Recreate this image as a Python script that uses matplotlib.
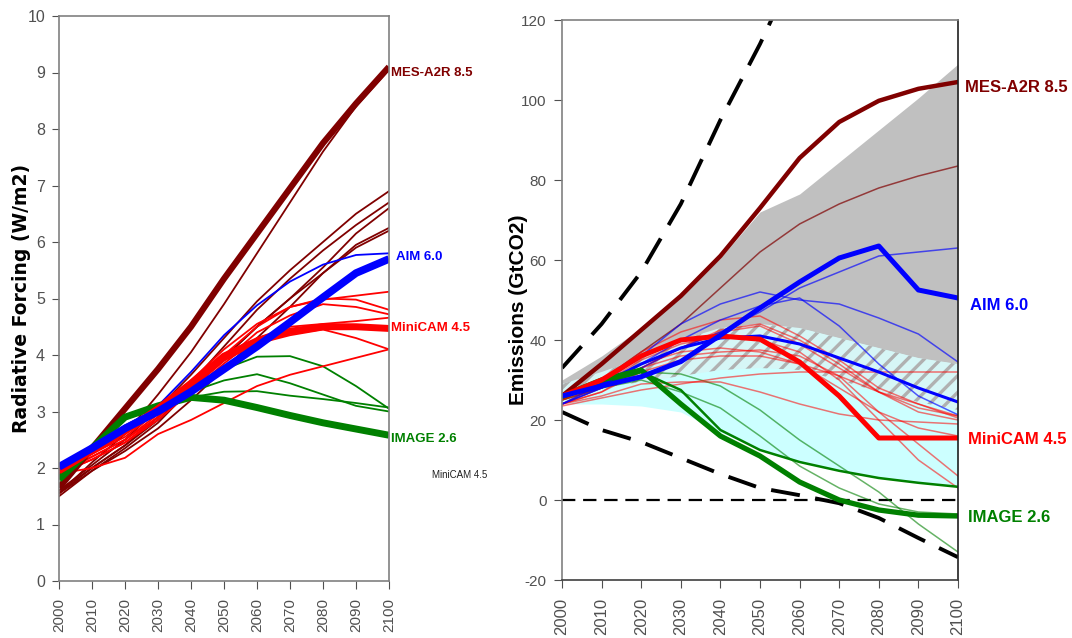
import numpy as np
import matplotlib
matplotlib.use("Agg")
import matplotlib.pyplot as plt

plt.rcParams['hatch.linewidth'] = 2.4
plt.rcParams['axes.unicode_minus'] = False

years = np.arange(2000, 2101, 10)

# ---- radiative forcing (W/m2) ----
rf_mes = [1.65, 2.35, 3.05, 3.75, 4.5, 5.35, 6.15, 6.95, 7.75, 8.45, 9.1]
rf_aim = [2.02, 2.35, 2.7, 3.0, 3.35, 3.75, 4.15, 4.58, 5.02, 5.45, 5.7]
rf_minicam = [1.95, 2.3, 2.65, 3.05, 3.5, 3.98, 4.25, 4.42, 4.5, 4.5, 4.47]
rf_image = [1.8, 2.35, 2.9, 3.1, 3.25, 3.2, 3.07, 2.93, 2.8, 2.69, 2.58]

rf_thin_darkred = [
    [1.55, 2.1, 2.6, 3.3, 4.05, 4.9, 5.8, 6.7, 7.6, 8.4, 9.05],
    [1.6, 2.05, 2.5, 3.05, 3.65, 4.3, 4.95, 5.5, 6.0, 6.5, 6.9],
    [1.55, 2.0, 2.4, 2.9, 3.5, 4.15, 4.8, 5.35, 5.85, 6.3, 6.7],
    [1.5, 1.95, 2.35, 2.8, 3.4, 3.95, 4.5, 5.0, 5.55, 6.15, 6.6],
    [1.6, 2.0, 2.4, 2.85, 3.4, 3.95, 4.5, 5.0, 5.45, 5.9, 6.2],
    [1.55, 1.95, 2.3, 2.7, 3.2, 3.75, 4.3, 4.85, 5.45, 5.95, 6.25],
]
rf_thin_blue = [
    [2.0, 2.3, 2.65, 3.1, 3.7, 4.35, 4.88, 5.3, 5.6, 5.77, 5.8],
]
rf_thin_red = [
    [1.9, 2.2, 2.5, 2.95, 3.5, 4.0, 4.5, 4.85, 4.98, 5.05, 5.12],
    [1.95, 2.25, 2.55, 3.0, 3.55, 4.1, 4.55, 4.85, 5.0, 4.98, 4.8],
    [1.9, 2.2, 2.5, 2.9, 3.4, 3.9, 4.4, 4.7, 4.9, 4.85, 4.72],
    [1.9, 2.15, 2.45, 2.85, 3.35, 3.85, 4.3, 4.5, 4.55, 4.6, 4.66],
    [1.9, 2.15, 2.45, 2.9, 3.4, 3.9, 4.2, 4.35, 4.45, 4.3, 4.1],
    [1.9, 2.0, 2.18, 2.6, 2.85, 3.15, 3.45, 3.65, 3.8, 3.95, 4.1],
]
rf_thin_green = [
    [1.7, 2.3, 2.75, 3.05, 3.4, 3.75, 3.97, 3.98, 3.8, 3.45, 3.05],
    [1.7, 2.3, 2.75, 3.05, 3.35, 3.55, 3.66, 3.5, 3.3, 3.1, 3.0],
    [1.7, 2.3, 2.75, 3.0, 3.25, 3.35, 3.36, 3.28, 3.22, 3.15, 3.07],
]

# ---- emissions (GtCO2) ----
em_mes = [26, 34, 42.5, 51, 61, 73, 85.5, 94.5, 99.8, 102.8, 104.5]
em_aim = [26, 28.5, 30.8, 34.6, 41.2, 48, 54.5, 60.5, 63.5, 52.5, 50.5]
em_minicam = [26, 30, 36, 40, 41, 40.2, 34.5, 26, 15.5, 15.5, 15.5]
em_image = [26, 30, 32.5, 24, 16, 11, 4.5, 0, -2.5, -3.8, -4]

em_thin_darkred = [
    [25, 30, 37, 44, 53, 62, 69, 74, 78, 81, 83.5],
]
em_thin_blue = [
    [24, 28, 33, 38, 42, 47, 53, 57, 61, 62, 63],
    [24, 29, 36, 44, 49, 52, 50, 49, 45.5, 41.5, 34.5],
    [24, 28, 34, 40, 45, 48.5, 50.5, 43.5, 34, 26, 21.3],
]
em_mid_blue = [26, 29, 34, 38, 40.5, 41, 39, 35.5, 32, 28, 24.5]
em_thin_red = [
    [23.5, 25.5, 27.5, 29, 30.5, 31.5, 32, 32, 32, 32, 32],
    [25, 30, 37, 42, 45, 46, 41, 35, 28, 24, 20.5],
    [24, 27, 33, 38, 42, 43.5, 39, 33, 27, 23, 21],
    [24, 26, 29, 29.5, 29.5, 27, 24, 21.5, 20, 19.5, 19],
    [25, 29, 34, 37, 38, 37, 34, 28, 22, 18, 16],
    [25, 28, 33, 36, 37, 37.5, 36, 31, 22, 14, 6],
    [24, 29, 35, 39, 41, 40, 37, 30, 20, 10, 3],
    [24, 27, 32, 35, 36, 36, 34, 31, 27, 24, 21],
    [24, 28, 33, 38, 42.5, 44, 40, 34, 27, 22, 20],
]
em_thin_green = [
    [25, 28, 32, 31.5, 28.5, 22.5, 15, 8.5, 2, -6, -13],
    [25, 28, 30, 27, 23, 16, 8.5, 3, -1, -3, -3.5],
]
em_mid_green = [25.5, 29, 32, 27.5, 17.5, 12.5, 9.5, 7.3, 5.5, 4.3, 3.3]

range_gray_hi = [30, 36, 43, 51, 60.5, 72, 76.5, 84.5, 92.5, 100.5, 109]
range_gray_lo = [27, 28, 29.5, 31, 32.5, 33, 32.5, 30, 27, 24.5, 22.5]
range_cyan_hi = [29, 32, 35.5, 40, 43, 44, 43, 40.5, 38, 35.5, 34]
range_cyan_lo = [24, 24, 23.5, 22, 17, 12.5, 9.5, 7.5, 5.5, 4.3, 3.3]

dash_hi = [33, 44, 57, 74, 95, 114, 135]
dash_hi_years = [2000, 2010, 2020, 2030, 2040, 2050, 2060]
dash_lo = [22, 17.5, 14.5, 10.5, 6.5, 3, 1.2, -0.8, -4.5, -9.5, -14.3]

DARKRED, BLUE, RED, GREEN = '#800000', '#0000FF', '#FF0000', '#008000'
NARROW = ['Liberation Sans Narrow', 'Liberation Sans', 'DejaVu Sans']
ARIAL = ['Liberation Sans', 'DejaVu Sans']

fig = plt.figure(figsize=(10.72, 6.38), dpi=100)
ax1 = fig.add_axes([59 / 1072, 57 / 638, 330 / 1072, 565 / 638])
ax2 = fig.add_axes([562 / 1072, 58 / 638, 396 / 1072, 560 / 638])

# ---------------- left panel ----------------
for s in rf_thin_darkred:
    ax1.plot(years, s, color=DARKRED, lw=1.3)
for s in rf_thin_green:
    ax1.plot(years, s, color=GREEN, lw=1.3)
for s in rf_thin_red:
    ax1.plot(years, s, color=RED, lw=1.3)
for s in rf_thin_blue:
    ax1.plot(years, s, color=BLUE, lw=1.3)
ax1.plot(years, rf_mes, color=DARKRED, lw=4.5, solid_capstyle='butt')
ax1.plot(years, rf_image, color=GREEN, lw=5, solid_capstyle='butt')
ax1.plot(years, rf_minicam, color=RED, lw=5, solid_capstyle='butt')
ax1.plot(years, rf_aim, color=BLUE, lw=5.5, solid_capstyle='butt')

ax1.set_xlim(2000, 2100)
ax1.set_ylim(0, 10)
ax1.set_yticks(range(0, 11))
ax1.set_xticks(years)
for t in ax1.get_yticklabels():
    t.set_fontfamily(NARROW)
    t.set_fontsize(11.5)
for t in ax1.get_xticklabels():
    t.set_fontfamily(ARIAL)
    t.set_fontsize(11)
    t.set_rotation(90)
ax1.tick_params(axis='y', direction='out', length=5, pad=5, colors='#505050')
ax1.tick_params(axis='x', direction='out', length=6, pad=6, colors='#505050')
for sp in ax1.spines.values():
    sp.set_color('#808080')
    sp.set_linewidth(1.2)

lab_kw = dict(fontfamily=NARROW, fontsize=9.5, fontweight='bold', va='center',
              ha='left', clip_on=False)
ax1.text(2100.6, 9.0, 'MES-A2R 8.5', color=DARKRED, **lab_kw)
ax1.text(2102, 5.73, 'AIM 6.0', color=BLUE, **lab_kw)
ax1.text(2100.6, 4.48, 'MiniCAM 4.5', color=RED, **lab_kw)
ax1.text(2100.6, 2.51, 'IMAGE 2.6', color=GREEN, **lab_kw)

fig.text(22 / 1072, 1 - 298 / 638, 'Radiative Forcing (W/m2)', rotation=90,
         fontsize=13.5, fontweight='bold', fontfamily='DejaVu Sans',
         ha='center', va='center')
fig.text(460 / 1072, 1 - 475 / 638, 'MiniCAM 4.5', fontsize=7,
         fontfamily=NARROW, ha='center', va='center', color='#202020')

# ---------------- right panel ----------------
ax2.fill_between(years, range_gray_lo, range_gray_hi, color='#C0C0C0', lw=0, zorder=1)
ax2.fill_between(years, range_cyan_lo, range_cyan_hi, color='#CCFFFF', lw=0, zorder=1)
ax2.fill_between(years, range_gray_lo, range_cyan_hi, facecolor='#D6F6F6',
                 edgecolor='#B0B0B0', hatch='//', lw=0, zorder=1.5)

ax2.axhline(0, color='black', lw=1.6, dashes=(6, 3.5), zorder=2)
ax2.plot(dash_hi_years, dash_hi, color='black', lw=2.8, dashes=(7.5, 4), zorder=2)
ax2.plot(years, dash_lo, color='black', lw=2.8, dashes=(7.5, 4), zorder=2)

for s in em_thin_darkred:
    ax2.plot(years, s, color=DARKRED, lw=1.1, alpha=0.7, zorder=3)
for s in em_thin_green:
    ax2.plot(years, s, color=GREEN, lw=1.1, alpha=0.6, zorder=3)
for s in em_thin_red:
    ax2.plot(years, s, color=RED, lw=1.1, alpha=0.55, zorder=3)
for s in em_thin_blue:
    ax2.plot(years, s, color=BLUE, lw=1.1, alpha=0.65, zorder=3)
ax2.plot(years, em_mid_green, color=GREEN, lw=1.8, zorder=3)
ax2.plot(years, em_mid_blue, color=BLUE, lw=2.2, zorder=3)
ax2.plot(years, em_image, color=GREEN, lw=3.8, zorder=4)
ax2.plot(years, em_mes, color=DARKRED, lw=3.2, zorder=4)
ax2.plot(years, em_minicam, color=RED, lw=3.6, zorder=4)
ax2.plot(years, em_aim, color=BLUE, lw=3.6, zorder=4)

ax2.set_xlim(2000, 2100)
ax2.set_ylim(-20, 120)
ax2.set_yticks(range(-20, 121, 20))
ax2.set_xticks(years)
for t in ax2.get_yticklabels():
    t.set_fontfamily(ARIAL)
    t.set_fontsize(11)
for t in ax2.get_xticklabels():
    t.set_fontfamily(ARIAL)
    t.set_fontsize(12)
    t.set_rotation(90)
ax2.tick_params(axis='y', direction='out', length=6, pad=5, colors='#505050')
ax2.tick_params(axis='x', direction='out', length=6, pad=7, colors='#505050')
for sp in ax2.spines.values():
    sp.set_color('#808080')
    sp.set_linewidth(1.2)
    sp.set_zorder(5)
ax2.spines['right'].set_color('#202020')
ax2.spines['bottom'].set_color('#404040')

lab_kw2 = dict(fontfamily=ARIAL, fontsize=12, fontweight='bold', va='center',
               ha='left', clip_on=False)
ax2.text(2101.8, 103, 'MES-A2R 8.5', color=DARKRED, **lab_kw2)
ax2.text(2103, 48.5, 'AIM 6.0', color=BLUE, **lab_kw2)
ax2.text(2102.5, 15, 'MiniCAM 4.5', color=RED, **lab_kw2)
ax2.text(2102.5, -4.5, 'IMAGE 2.6', color=GREEN, **lab_kw2)

fig.text(519 / 1072, 1 - 310 / 638, 'Emissions (GtCO2)', rotation=90,
         fontsize=15, fontweight='bold', fontfamily=ARIAL,
         ha='center', va='center')

fig.savefig('out.png', dpi=100)
